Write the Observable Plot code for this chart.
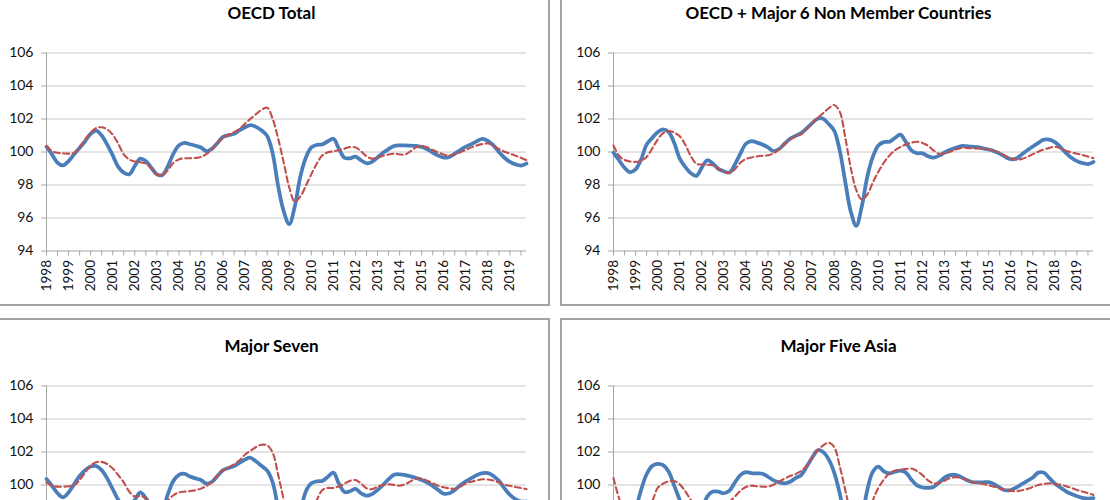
<!DOCTYPE html>
<html>
<head>
<meta charset="utf-8">
<script src="https://cdn.jsdelivr.net/npm/d3@7"></script>
<script src="https://cdn.jsdelivr.net/npm/@observablehq/plot@0.6"></script>
<style>
  html, body { margin: 0; padding: 0; background: #fff; }
  #wrap { position: relative; width: 1110px; height: 500px; overflow: hidden; background: #fff; }
  .panel { position: absolute; box-sizing: border-box; width: 557px; height: 321px; border: 2px solid #a3a3a3; background: #fff; }
  .panel svg { position: absolute; left: 0; top: 0; }
  .title { position: absolute; left: 0; right: 0; top: 16px; line-height: 20px; text-align: center;
           font-family: Lato, "Open Sans", sans-serif; font-weight: bold; font-size: 17px; color: #000; z-index: 2; }
</style>
</head>
<body>
<div id="wrap"></div>
<script>
// ---- data (quarterly readings, Jan 1998 .. Oct 2019) ----
const quarters = d3.range(88).map(i => 1998 + i / 4);
const years = d3.range(1998, 2020);
const halfYears = d3.range(1998, 2020, 0.5);
const yTicks = [94, 96, 98, 100, 102, 104, 106];

const titles = ["OECD Total", "OECD + Major 6 Non Member Countries", "Major Seven", "Major Five Asia"];

const oecdTotalLead = [
100.32,99.85,99.35,99.19, 99.45,99.86,100.25,100.65, 101.1,101.3,101.0,100.45, 99.8,99.1,98.75,98.65,
99.15,99.6,99.45,99.05, 98.65,98.6,99.15,99.9, 100.4,100.55,100.47,100.38, 100.27,100.05,100.2,100.55,
100.92,101.02,101.1,101.33, 101.5,101.63,101.52,101.3, 100.97,99.9,97.9,96.4, 95.63,96.7,98.5,99.65,
100.28,100.43,100.46,100.65, 100.8,100.2,99.65,99.62, 99.72,99.5,99.32,99.4, 99.67,99.95,100.18,100.36,
100.4,100.4,100.38,100.37, 100.3,100.16,99.97,99.78, 99.66,99.7,99.9,100.12, 100.32,100.48,100.65,100.8,
100.68,100.4,100.0,99.65, 99.4,99.25,99.18,99.3];
const oecdTotalRef = [
100.36,100.05,99.95,99.92, 99.9,99.95,100.3,100.75, 101.17,101.45,101.5,101.37, 101.05,100.5,99.86,99.55,
99.42,99.38,99.3,99.0, 98.65,98.6,98.9,99.35, 99.55,99.62,99.62,99.64, 99.7,99.88,100.15,100.55,
100.87,101.05,101.2,101.4, 101.73,102.02,102.3,102.56, 102.68,102.0,100.8,99.35, 97.85,97.0,97.3,97.95,
98.65,99.3,99.8,99.98, 100.04,100.1,100.2,100.3, 100.28,100.05,99.74,99.6, 99.66,99.77,99.85,99.9,
99.85,99.85,100.05,100.28, 100.36,100.28,100.12,99.98, 99.85,99.78,99.86,99.98, 100.12,100.28,100.4,100.48,
100.52,100.38,100.18,100.02, 99.9,99.78,99.65,99.5];

const oecd6Lead = [
99.96,99.5,99.05,98.78, 98.95,99.55,100.45,100.85, 101.2,101.37,101.2,100.56, 99.6,99.1,98.72,98.55,
99.05,99.5,99.3,98.98, 98.83,98.75,99.25,99.9, 100.5,100.66,100.57,100.45, 100.28,100.06,100.18,100.5,
100.8,100.98,101.15,101.43, 101.75,102.02,102.02,101.7, 101.3,100.1,98.2,96.4, 95.53,96.7,98.5,99.7,
100.4,100.6,100.62,100.85, 101.05,100.6,100.1,99.93, 99.92,99.75,99.66,99.78, 99.97,100.14,100.25,100.36,
100.35,100.32,100.3,100.22, 100.15,100.05,99.9,99.7, 99.56,99.6,99.85,100.1, 100.33,100.55,100.75,100.75,
100.6,100.3,99.95,99.65, 99.45,99.33,99.27,99.4];
const oecd6Ref = [
100.4,99.77,99.52,99.42, 99.4,99.47,99.7,100.2, 100.75,101.15,101.27,101.18, 100.95,100.45,99.76,99.3,
99.24,99.23,99.19,99.0, 98.8,98.73,98.95,99.35, 99.58,99.67,99.73,99.77, 99.8,99.92,100.15,100.47,
100.75,100.95,101.07,101.4, 101.75,102.07,102.35,102.65, 102.85,102.45,100.9,99.05, 97.7,97.12,97.42,98.15,
98.8,99.35,99.78,100.1, 100.3,100.46,100.57,100.62, 100.55,100.38,100.1,99.9, 99.9,100.02,100.14,100.25,
100.25,100.22,100.21,100.2, 100.15,100.08,99.95,99.78, 99.62,99.53,99.58,99.7, 99.87,100.02,100.15,100.25,
100.32,100.22,100.08,99.98, 99.9,99.82,99.72,99.62];

const g7Lead = [
100.36,99.95,99.5,99.25, 99.55,100.05,100.55,100.9, 101.12,101.15,100.9,100.4, 99.75,99.1,98.7,98.6,
99.1,99.55,99.2,98.75, 98.4,98.5,99.45,100.25, 100.62,100.68,100.52,100.4, 100.3,100.08,100.2,100.55,
100.9,101.03,101.15,101.35, 101.55,101.65,101.42,101.15, 100.87,100.15,98.5,96.5, 95.5,96.5,98.3,99.6,
100.1,100.22,100.25,100.5, 100.75,100.08,99.58,99.62, 99.76,99.5,99.35,99.45, 99.7,100.0,100.35,100.62,
100.65,100.6,100.52,100.42, 100.3,100.15,99.95,99.7, 99.47,99.5,99.7,99.98, 100.22,100.42,100.6,100.72,
100.72,100.55,100.25,99.8, 99.4,99.15,99.0,99.0];
const g7Ref = [
100.16,99.95,99.9,99.9, 99.92,99.98,100.3,100.75, 101.17,101.38,101.4,101.27, 101.0,100.6,100.16,99.6,
99.3,99.34,99.2,98.9, 98.6,98.65,99.05,99.38, 99.55,99.6,99.63,99.68, 99.78,99.95,100.2,100.6,
100.87,101.05,101.25,101.5, 101.85,102.08,102.3,102.44, 102.4,101.95,100.6,99.1, 97.6,97.0,97.2,97.8,
98.5,99.1,99.7,99.82, 99.82,99.92,100.08,100.25, 100.3,100.1,99.8,99.75, 99.9,100.0,100.05,100.0,
99.96,100.05,100.22,100.4, 100.38,100.26,100.1,99.95, 99.86,99.8,99.77,99.9, 100.1,100.2,100.28,100.35,
100.33,100.27,100.15,100.02, 99.95,99.88,99.82,99.75];

const asiaLead = [
98.0,97.3,97.0,97.5, 98.5,99.7,100.65,101.15, 101.28,101.2,100.8,99.96, 99.1,98.3,97.9,97.9,
98.5,99.3,99.6,99.6, 99.5,99.65,100.15,100.6, 100.78,100.72,100.7,100.68, 100.5,100.28,100.16,100.1,
100.2,100.42,100.6,101.1, 101.65,102.1,102.0,101.55, 100.75,99.5,97.8,96.2, 95.8,97.8,99.7,100.8,
101.12,100.82,100.7,100.8, 100.87,100.75,100.32,99.98, 99.85,99.82,99.88,100.15, 100.45,100.6,100.62,100.48,
100.3,100.18,100.16,100.16, 100.17,100.05,99.84,99.68, 99.7,99.85,100.05,100.25, 100.45,100.75,100.75,100.42,
100.08,99.85,99.62,99.45, 99.32,99.22,99.18,99.2];
const asiaRef = [
100.42,99.2,98.3,97.9, 98.0,98.4,98.8,99.05, 99.82,100.08,100.22,100.24, 100.04,99.62,99.1,98.6,
98.3,98.3,98.5,98.75, 98.95,99.0,99.3,99.65, 99.88,99.96,99.92,99.9, 99.9,100.02,100.2,100.38,
100.54,100.66,100.85,101.15, 101.65,102.1,102.4,102.57, 102.3,101.15,99.7,98.2, 96.8,96.4,97.7,99.05,
99.82,100.32,100.7,100.86, 100.93,100.97,101.0,100.85, 100.6,100.28,100.1,100.12, 100.26,100.42,100.48,100.42,
100.3,100.18,100.12,100.07, 99.98,99.9,99.8,99.71, 99.66,99.62,99.68,99.76, 99.88,100.0,100.06,100.1,
100.06,100.02,99.93,99.82, 99.7,99.6,99.5,99.4];

// ---- layout ----
const panels = [
  {title: titles[0], lead: oecdTotalLead, ref: oecdTotalRef, left: -7,  top: -15},
  {title: titles[1], lead: oecd6Lead,     ref: oecd6Ref,     left: 560, top: -15},
  {title: titles[2], lead: g7Lead,        ref: g7Ref,        left: -7,  top: 318},
  {title: titles[3], lead: asiaLead,      ref: asiaRef,      left: 560, top: 318}
];

const axisGray = "#a6a6a6";
const gridGray = "#c8c8c8";

function chart(p) {
  return Plot.plot({
    width: 553, height: 317,
    marginLeft: 51, marginRight: 22, marginTop: 65.5, marginBottom: 53.5,
    style: {fontFamily: "Lato, 'Open Sans', sans-serif", fontSize: "13.5px", color: "#111", background: "transparent", overflow: "visible"},
    x: {domain: [1998, 2019.75]},
    y: {domain: [94, 106]},
    marks: [
      Plot.ruleY(yTicks.slice(1), {stroke: gridGray, strokeWidth: 1}),
      Plot.axisY({ticks: yTicks, tickSize: 5, tickPadding: 8, stroke: axisGray, label: null, fontSize: 14}),
      Plot.axisX({ticks: halfYears, tickSize: 5, tickFormat: () => "", stroke: axisGray, label: null}),
      Plot.axisX({ticks: years, tickSize: 0, tickPadding: 9, tickRotate: -90, tickFormat: d => String(d), label: null, fontSize: 13.5}),
      Plot.ruleY([94], {stroke: axisGray}),
      Plot.ruleX([1998], {stroke: axisGray}),
      Plot.line(p.lead, {x: (d, i) => quarters[i], y: d => d, stroke: "#4a7ebb", strokeWidth: 3.75, curve: "catmull-rom"}),
      Plot.line(p.ref, {x: (d, i) => quarters[i], y: d => d, stroke: "#c0504d", strokeWidth: 2.1, strokeDasharray: "6,3.5", curve: "catmull-rom"})
    ]
  });
}

const wrap = document.getElementById("wrap");
for (const p of panels) {
  const div = document.createElement("div");
  div.className = "panel";
  div.style.left = p.left + "px";
  div.style.top = p.top + "px";
  const t = document.createElement("div");
  t.className = "title";
  t.textContent = p.title;
  div.appendChild(t);
  div.appendChild(chart(p));
  wrap.appendChild(div);
}
</script>
</body>
</html>
